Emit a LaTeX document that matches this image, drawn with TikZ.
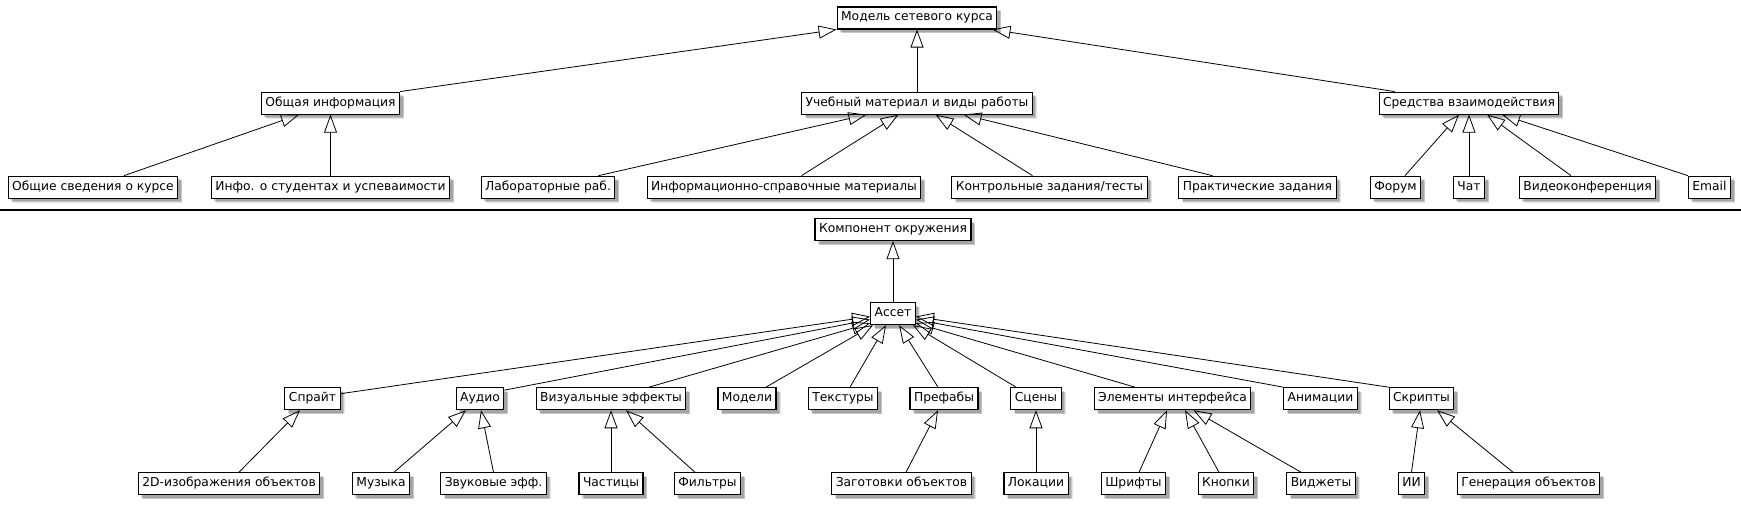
\documentclass[tikz,border=0pt]{standalone}
\usepackage{fontspec}
\setmainfont{DejaVu Sans}
\usetikzlibrary{positioning,arrows.meta,shadows}

\begin{document}
\begin{tikzpicture}[
    x=1pt, y=1pt,
    node distance=62pt,
    box/.style={
        draw,
        line width=1.1pt,
        fill=white,
        drop shadow={shadow xshift=4.5pt, shadow yshift=-4.5pt, opacity=0.10, fill=black},
        drop shadow={shadow xshift=4pt, shadow yshift=-4pt, opacity=0.14, fill=black},
        drop shadow={shadow xshift=3pt, shadow yshift=-3pt, opacity=0.16, fill=black},
        minimum height=22pt,
        inner xsep=4pt,
        inner ysep=0pt,
        text height=9pt,
        text depth=3pt,
        font=\fontsize{12.3}{14}\selectfont
    },
    inherit/.style={
        line width=0.8pt,
        -{Triangle[open, length=18pt, width=13pt]}
    }
]
    \useasboundingbox (0,0) rectangle (1741,-511);

    % Верхняя схема: модель сетевого курса
    \node[box] (model) at (917,-18) {Модель сетевого курса};

    % Три раздела курса
    \node[box, below=of model, xshift=-586.5pt] (general) {Общая информация};
    \node[box, below=of model] (study) {Учебный материал и виды работы};
    \node[box, below=of model, xshift=552pt] (comm) {Средства взаимодействия};

    % Общая информация
    \node[box, below=61pt of general, xshift=-237.5pt] (sved) {Общие сведения о курсе};
    \node[box, below=61pt of general] (info) {Инфо. о студентах и успеваимости};

    % Учебный материал
    \node[box, below=61pt of study, xshift=-369pt] (lab) {Лабораторные раб.};
    \node[box, below=61pt of study, xshift=-133pt] (infspr) {Информационно-справочные материалы};
    \node[box, below=61pt of study, xshift=132.5pt] (control) {Контрольные задания/тесты};
    \node[box, below=61pt of study, xshift=340.5pt] (prakt) {Практические задания};

    % Средства взаимодействия
    \node[box, below=61pt of comm, xshift=-73.5pt] (forum) {Форум};
    \node[box, below=61pt of comm] (chat) {Чат};
    \node[box, below=61pt of comm, xshift=118.5pt] (video) {Видеоконференция};
    \node[box, below=61pt of comm, xshift=240.5pt] (email) {Email};

    % Наследование к разделам
    \draw[inherit] (general.north east) -- (model.south west);
    \draw[inherit] (study) -- (model);
    \draw[inherit] ([xshift=16pt]comm.north west) -- ([xshift=-5pt]model.south east);

    \draw[inherit] ([xshift=31pt]sved.north) -- ([xshift=-31.5pt]general.south);
    \draw[inherit] (info) -- (general);

    \draw[inherit] ([xshift=50.5pt]lab.north) -- ([xshift=-50.5pt]study.south);
    \draw[inherit] ([xshift=17.5pt]infspr.north) -- ([xshift=-18.5pt]study.south);
    \draw[inherit] ([xshift=-17pt]control.north) -- ([xshift=18.5pt]study.south);
    \draw[inherit] ([xshift=-45pt]prakt.north) -- ([xshift=46.5pt]study.south);

    \draw[inherit] ([xshift=9.5pt]forum.north) -- ([xshift=-10pt]comm.south);
    \draw[inherit] (chat) -- (comm);
    \draw[inherit] ([xshift=-16.5pt]video.north) -- ([xshift=18pt]comm.south);
    \draw[inherit] (email.north west) -- ([xshift=33pt]comm.south);

    % Разделитель
    \draw[line width=1.2pt] (0,-210) -- (1741,-210);

    % Нижняя схема: компонент окружения
    \node[box] (comp) at (893,-229.5) {Компонент окружения};
    \node[box, below=61pt of comp] (asset) {Ассет};

    % Виды ассетов
    \node[box, below=of asset, xshift=-580.5pt] (sprite) {Спрайт};
    \node[box, below=of asset, xshift=-413pt] (audio) {Аудио};
    \node[box, below=of asset, xshift=-282pt] (visual) {Визуальные эффекты};
    \node[box, below=of asset, xshift=-146pt] (models) {Модели};
    \node[box, below=of asset, xshift=-50pt] (textures) {Текстуры};
    \node[box, below=of asset, xshift=51pt] (prefabs) {Префабы};
    \node[box, below=of asset, xshift=143pt] (scenes) {Сцены};
    \node[box, below=of asset, xshift=279.5pt] (ui) {Элементы интерфейса};
    \node[box, below=of asset, xshift=427.5pt] (anim) {Анимации};
    \node[box, below=of asset, xshift=528.5pt] (scripts) {Скрипты};

    % Нижний уровень
    \node[box, below=of sprite, xshift=-83.5pt] (img2d) {2D-изображения объектов};
    \node[box, below=of audio, xshift=-99pt] (music) {Музыка};
    \node[box, below=of audio, xshift=13.5pt] (sfx) {Звуковые эфф.};
    \node[box, below=of visual] (particles) {Частицы};
    \node[box, below=of visual, xshift=96.5pt] (filters) {Фильтры};
    \node[box, below=of prefabs, xshift=-42.5pt] (blanks) {Заготовки объектов};
    \node[box, below=of scenes] (locations) {Локации};
    \node[box, below=of ui, xshift=-39pt] (fonts) {Шрифты};
    \node[box, below=of ui, xshift=53.5pt] (buttons) {Кнопки};
    \node[box, below=of ui, xshift=148.5pt] (widgets) {Виджеты};
    \node[box, below=of scripts, xshift=-10pt] (ai) {ИИ};
    \node[box, below=of scripts, xshift=107pt] (gen) {Генерация объектов};

    % Наследование к ассету
    \draw[inherit] (asset) -- (comp);
    \draw[inherit] ([yshift=5pt]sprite.east) -- ([yshift=-3pt]asset.west);
    \draw[inherit] ([yshift=-3pt]audio.north east) -- ([yshift=-6pt]asset.west);
    \draw[inherit] ([xshift=38pt]visual.north) -- ([yshift=2pt]asset.south west);
    \draw[inherit] ([xshift=19pt]models.north) -- ([xshift=3pt]asset.south west);
    \draw[inherit] ([xshift=7pt]textures.north) -- ([xshift=-7pt]asset.south);
    \draw[inherit] ([xshift=-6pt]prefabs.north) -- ([xshift=6pt]asset.south);
    \draw[inherit] ([xshift=-20pt]scenes.north) -- ([xshift=-3pt]asset.south east);
    \draw[inherit] ([xshift=-37.5pt]ui.north) -- ([yshift=2pt]asset.south east);
    \draw[inherit] (anim.north west) -- ([yshift=-6pt]asset.east);
    \draw[inherit] (scripts.north west) -- ([yshift=-3pt]asset.east);

    % Наследование нижнего уровня
    \draw[inherit] ([xshift=10pt]img2d.north) -- ([xshift=-12.5pt]sprite.south);
    \draw[inherit] ([xshift=13pt]music.north) -- ([xshift=-14pt]audio.south);
    \draw[inherit] (sfx.north) -- ([xshift=1pt]audio.south);
    \draw[inherit] (particles) -- (visual);
    \draw[inherit] ([xshift=-12.5pt]filters.north) -- ([xshift=15pt]visual.south);
    \draw[inherit] ([xshift=4.5pt]blanks.north) -- ([xshift=-6pt]prefabs.south);
    \draw[inherit] (locations) -- (scenes);
    \draw[inherit] ([xshift=5.5pt]fonts.north) -- ([xshift=-5.5pt]ui.south);
    \draw[inherit] ([xshift=-7pt]buttons.north) -- ([xshift=12.5pt]ui.south);
    \draw[inherit] ([xshift=-20pt]widgets.north) -- ([xshift=21pt]ui.south);
    \draw[inherit] (ai.north) -- ([xshift=-1.5pt]scripts.south);
    \draw[inherit] ([xshift=-15.5pt]gen.north) -- ([xshift=15.5pt]scripts.south);
\end{tikzpicture}
\end{document}
